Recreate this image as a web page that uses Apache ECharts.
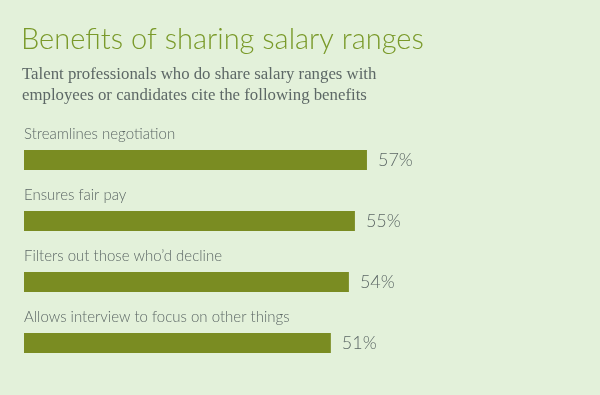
<!DOCTYPE html>
<html><head><meta charset="utf-8">
<script src="https://cdn.jsdelivr.net/npm/echarts@6/dist/echarts.min.js"></script>
<style>html,body{margin:0;padding:0;background:#e3f1da;}#c{width:600px;height:395px;}</style>
</head><body><div id="c"></div>
<script>
const categories = ["Streamlines negotiation","Ensures fair pay","Filters out those who\u2019d decline","Allows interview to focus on other things"];
const values = [57,55,54,51];
const titleText = "Benefits of sharing salary ranges";
const subtitleText = "Talent professionals who do share salary ranges with\nemployees or candidates cite the following benefits";

const chart = echarts.init(document.getElementById('c'));
chart.setOption({
  backgroundColor:'#e3f1da',
  animation:false,
  title:[{
    text:titleText, left:21, top:25, padding:0,
    textStyle:{fontFamily:'Lato',fontWeight:300,fontSize:29,color:'#7a9a2a'}
  },{
    text:subtitleText, left:22, top:64, padding:0,
    textStyle:{fontFamily:'Liberation Serif',fontWeight:'normal',fontSize:16.8,color:'#5d6866',lineHeight:21}
  }],
  grid:{left:24,top:129.5,width:361,height:244},
  xAxis:{type:'value',min:0,max:60,show:false},
  yAxis:{type:'category',data:categories,inverse:true,
    axisLine:{show:false},axisTick:{show:false},
    axisLabel:{inside:true,margin:0,align:'left',verticalAlign:'bottom',padding:[0,0,18,0],
      fontFamily:'Lato',fontWeight:300,fontSize:15,color:'#5d6866'}},
  series:[{type:'bar',data:values,barWidth:20,itemStyle:{color:'#7a8c22'},
    label:{show:true,position:'right',distance:11,formatter:'{c}%',
      fontFamily:'Lato',fontWeight:300,fontSize:18,color:'#5d6866'}}]
});
</script></body></html>
